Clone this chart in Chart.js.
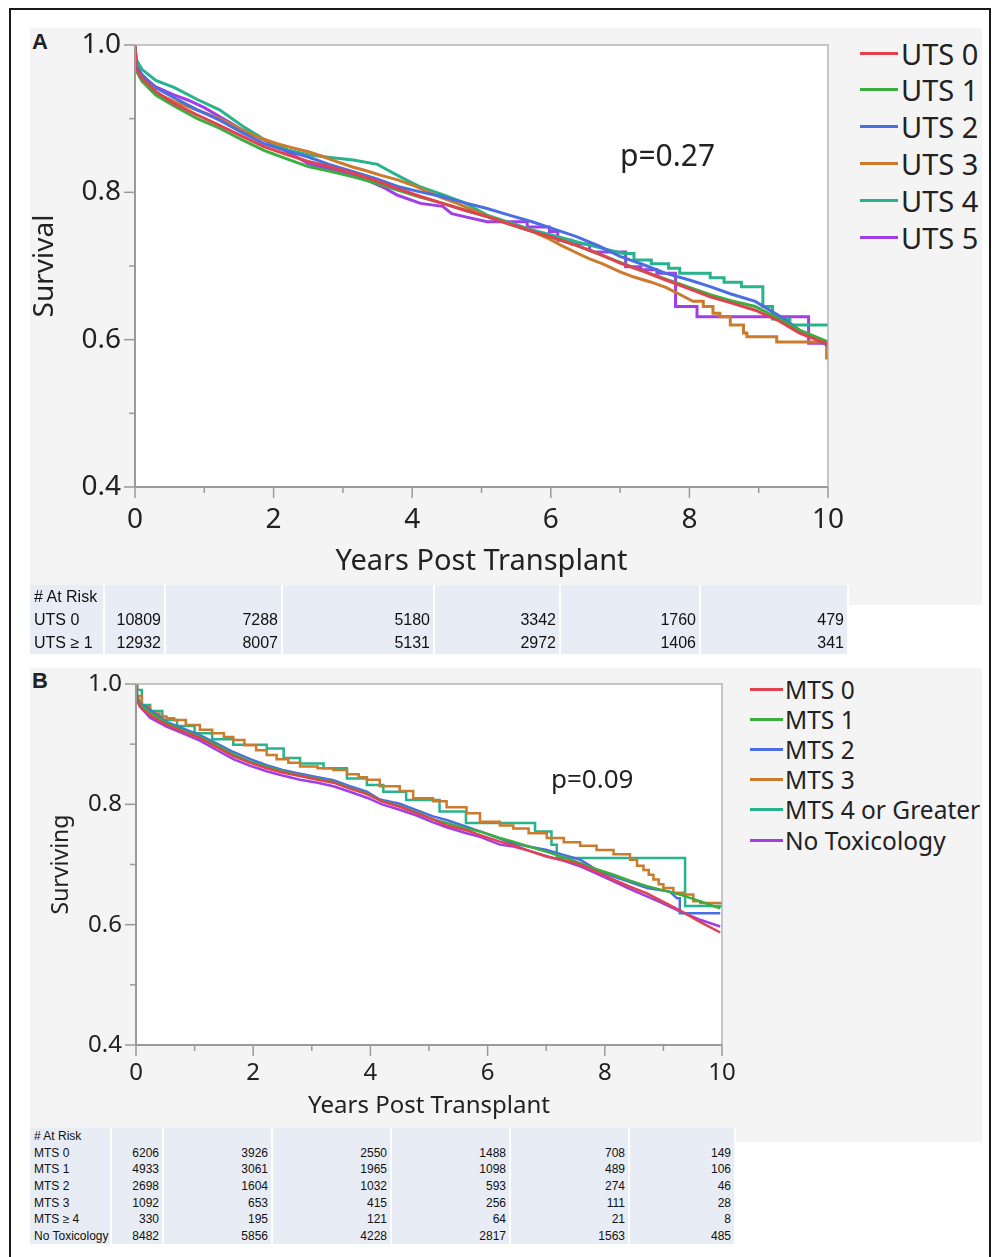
<!DOCTYPE html>
<html>
<head>
<meta charset="utf-8">
<script src="https://cdn.jsdelivr.net/npm/chart.js@4.4.1/dist/chart.umd.min.js"></script>
<style>
  body { margin: 0; background: #fff; font-family: 'Noto Sans', sans-serif; color: #222; }
  #page { position: relative; width: 992px; height: 1257px; overflow: hidden; }
  .frame { position: absolute; left: 9px; top: 8px; width: 978px; height: 1300px; border: 2px solid #1a1a1a; }
  .panel-bg { position: absolute; background: #f4f4f4; }
  canvas { position: absolute; }
  .tag { position: absolute; font-family: 'Liberation Sans', Arial, sans-serif; font-weight: bold; font-size: 22px; line-height: 1; }
  .pval { position: absolute; white-space: nowrap; line-height: 1; color: #222; }
  .legend { position: absolute; }
  .legend .row { position: absolute; left: 0; display: flex; align-items: center; white-space: nowrap; color: #222; }
  .legend .swatch { display: inline-block; }
  table.risk { position: absolute; border-collapse: collapse; table-layout: fixed; font-family: 'Liberation Sans', Arial, sans-serif; color: #111; }
  table.risk td { background: #e8ecf4; border-right: 2px solid #fff; padding: 0 3px 0 0; white-space: nowrap; overflow: hidden; text-align: right; }
  table.risk td:first-child { text-align: left; padding: 0 0 0 4px; }
</style>
</head>
<body>
<div id="page">
  <div class="frame"></div>

  <!-- panel A -->
  <div class="panel-bg" style="left:30px;top:28px;width:952px;height:577px;"></div>
  <div class="tag" style="left:32px;top:31px;">A</div>
  <canvas id="chartA" width="820" height="560" style="left:30px;top:28px;"></canvas>
  <div class="pval" style="left:620px;top:140px;font-size:30px;">p=0.27</div>
  <div class="legend" id="legendA" style="left:860px;top:0;"></div>
  <table class="risk" id="riskA" style="left:30px;top:585px;font-size:16px;"></table>

  <!-- panel B -->
  <div class="panel-bg" style="left:30px;top:668px;width:952px;height:474px;"></div>
  <div class="tag" style="left:32px;top:670px;">B</div>
  <canvas id="chartB" width="712" height="460" style="left:30px;top:668px;"></canvas>
  <div class="pval" style="left:551px;top:765px;font-size:26px;">p=0.09</div>
  <div class="legend" id="legendB" style="left:750px;top:0;"></div>
  <table class="risk" id="riskB" style="left:30px;top:1128px;font-size:12px;"></table>
</div>

<script>
// ---- panel A: survival by UTS, [years, survival]
// repeated years mark the visible vertical drops of the small groups
const uts0 = [[0,1],[0.02,0.968],[0.1,0.955],[0.3,0.937],[0.57,0.92],[0.9,0.905],[1.22,0.891],[1.55,0.876],[1.86,0.862],[2.2,0.851],[2.5,0.842],[2.8,0.835],[3.15,0.826],[3.5,0.815],[3.79,0.805],[4.1,0.795],[4.44,0.785],[4.75,0.776],[5.08,0.767],[5.4,0.757],[5.73,0.747],[6.05,0.738],[6.37,0.728],[6.7,0.716],[7.0,0.704],[7.33,0.693],[7.66,0.681],[8.0,0.669],[8.3,0.658],[8.6,0.65],[8.95,0.64],[9.3,0.625],[9.59,0.609],[10,0.594]];
const uts1 = [[0,1],[0.02,0.965],[0.1,0.951],[0.3,0.932],[0.57,0.917],[0.9,0.9],[1.22,0.887],[1.55,0.871],[1.86,0.857],[2.2,0.845],[2.5,0.835],[2.8,0.829],[3.15,0.821],[3.5,0.812],[3.79,0.803],[4.1,0.794],[4.44,0.785],[4.75,0.776],[5.08,0.767],[5.4,0.757],[5.73,0.747],[6.05,0.738],[6.37,0.728],[6.7,0.716],[7.0,0.705],[7.33,0.693],[7.66,0.682],[8.0,0.671],[8.3,0.661],[8.6,0.653],[8.95,0.645],[9.3,0.628],[9.59,0.613],[10,0.597]];
const uts2 = [[0,1],[0.02,0.972],[0.1,0.96],[0.3,0.942],[0.57,0.928],[0.9,0.912],[1.22,0.898],[1.55,0.881],[1.86,0.866],[2.2,0.856],[2.5,0.848],[2.8,0.838],[3.15,0.828],[3.5,0.818],[3.79,0.808],[4.1,0.801],[4.44,0.794],[4.75,0.786],[5.08,0.778],[5.4,0.769],[5.73,0.76],[6.05,0.75],[6.37,0.74],[6.7,0.727],[7.0,0.713],[7.33,0.702],[7.66,0.69],[8.0,0.681],[8.3,0.672],[8.6,0.662],[8.95,0.652],[9.3,0.632],[9.6,0.612],[10,0.592]];
const uts3 = [[0,1],[0.02,0.966],[0.1,0.952],[0.3,0.935],[0.57,0.923],[0.8,0.915],[1.0,0.908],[1.22,0.9],[1.4,0.892],[1.6,0.882],[1.86,0.872],[2.05,0.866],[2.25,0.861],[2.5,0.855],[2.7,0.849],[2.9,0.842],[3.15,0.834],[3.35,0.829],[3.55,0.823],[3.79,0.817],[4.0,0.81],[4.2,0.802],[4.44,0.792],[4.65,0.785],[4.85,0.777],[5.08,0.768],[5.3,0.761],[5.5,0.754],[5.73,0.747],[5.95,0.738],[6.15,0.728],[6.37,0.718],[6.55,0.71],[6.75,0.703],[7.0,0.692],[7.2,0.685],[7.45,0.678],[7.66,0.671],[7.85,0.662],[8.05,0.652],[8.2,0.652],[8.2,0.645],[8.34,0.645],[8.34,0.636],[8.44,0.636],[8.44,0.631],[8.59,0.631],[8.59,0.62],[8.78,0.62],[8.78,0.609],[8.83,0.609],[8.83,0.604],[9.26,0.604],[9.26,0.597],[9.98,0.597],[9.98,0.575],[10,0.575]];
const uts4 = [[0,1],[0.02,0.98],[0.1,0.967],[0.3,0.952],[0.57,0.942],[0.9,0.926],[1.22,0.912],[1.55,0.89],[1.86,0.872],[2.2,0.858],[2.5,0.851],[2.85,0.847],[3.15,0.844],[3.5,0.838],[3.65,0.83],[3.85,0.82],[4.1,0.808],[4.44,0.797],[4.75,0.786],[5.08,0.769],[5.4,0.759],[5.73,0.749],[6.05,0.741],[6.37,0.733],[6.7,0.725],[7.05,0.717],[7.2,0.717],[7.2,0.708],[7.45,0.708],[7.45,0.703],[7.7,0.703],[7.7,0.697],[7.86,0.697],[7.86,0.69],[8.3,0.69],[8.3,0.684],[8.5,0.684],[8.5,0.678],[8.75,0.678],[8.75,0.672],[9.06,0.672],[9.06,0.645],[9.2,0.645],[9.2,0.628],[9.45,0.628],[9.45,0.62],[10,0.62]];
const uts5 = [[0,1],[0.02,0.97],[0.1,0.958],[0.3,0.943],[0.57,0.932],[0.77,0.925],[1.0,0.915],[1.22,0.903],[1.4,0.893],[1.54,0.885],[1.86,0.871],[2.2,0.855],[2.5,0.839],[2.8,0.832],[3.15,0.824],[3.34,0.817],[3.6,0.806],[3.79,0.796],[4.12,0.785],[4.44,0.781],[4.57,0.771],[4.85,0.765],[5.08,0.76],[5.66,0.76],[5.66,0.753],[5.98,0.753],[5.98,0.747],[6.1,0.747],[6.1,0.735],[6.3,0.735],[6.3,0.73],[6.56,0.73],[6.56,0.722],[6.63,0.719],[7.08,0.719],[7.08,0.699],[7.3,0.699],[7.3,0.695],[7.53,0.695],[7.53,0.69],[7.8,0.69],[7.8,0.645],[8.11,0.645],[8.11,0.631],[9.72,0.631],[9.72,0.595],[10,0.595]];

const utsLabels = ['UTS 0', 'UTS 1', 'UTS 2', 'UTS 3', 'UTS 4', 'UTS 5'];
const utsStepped = [false, false, false, false, false, false];

// ---- panel B: survival by MTS
const mts0 = [[0,1],[0.02,0.975],[0.07,0.962],[0.24,0.948],[0.52,0.932],[0.8,0.921],[1.09,0.91],[1.4,0.894],[1.66,0.88],[1.95,0.869],[2.23,0.86],[2.5,0.853],[2.8,0.847],[3.1,0.841],[3.37,0.836],[3.65,0.826],[3.94,0.817],[4.2,0.805],[4.5,0.796],[4.8,0.785],[5.07,0.775],[5.3,0.765],[5.64,0.757],[5.9,0.748],[6.21,0.738],[6.44,0.732],[6.7,0.723],[7.01,0.713],[7.3,0.707],[7.58,0.7],[7.86,0.688],[8.15,0.675],[8.43,0.663],[8.72,0.652],[9.0,0.638],[9.28,0.624],[9.6,0.606],[9.97,0.587]];
const mts1 = [[0,1],[0.02,0.978],[0.07,0.966],[0.24,0.953],[0.52,0.935],[0.8,0.923],[1.09,0.912],[1.4,0.897],[1.66,0.883],[1.95,0.871],[2.23,0.862],[2.5,0.855],[2.8,0.848],[3.1,0.842],[3.37,0.837],[3.65,0.827],[3.94,0.818],[4.2,0.805],[4.5,0.797],[4.8,0.786],[5.07,0.775],[5.3,0.769],[5.64,0.76],[5.87,0.755],[6.21,0.744],[6.44,0.738],[6.7,0.73],[7.01,0.721],[7.3,0.712],[7.58,0.702],[7.86,0.692],[8.15,0.683],[8.43,0.673],[8.72,0.664],[9.0,0.657],[9.28,0.65],[9.6,0.64],[9.85,0.631],[9.97,0.627]];
const mts2 = [[0,1],[0.02,0.98],[0.07,0.968],[0.24,0.957],[0.52,0.937],[0.8,0.926],[1.09,0.915],[1.4,0.9],[1.66,0.887],[1.95,0.875],[2.23,0.865],[2.5,0.857],[2.8,0.851],[3.1,0.845],[3.37,0.84],[3.65,0.83],[3.94,0.821],[4.16,0.808],[4.5,0.801],[4.8,0.79],[5.07,0.78],[5.3,0.774],[5.64,0.763],[5.87,0.755],[6.21,0.743],[6.44,0.735],[6.7,0.73],[7.01,0.724],[7.3,0.716],[7.58,0.708],[7.86,0.691],[8.15,0.68],[8.43,0.671],[8.72,0.661],[9.11,0.655],[9.23,0.644],[9.28,0.644],[9.28,0.619],[9.97,0.619]];
const mts3 = [[0,1],[0.02,0.98],[0.1,0.962],[0.24,0.951],[0.4,0.946],[0.52,0.943],[0.65,0.94],[0.85,0.932],[1.09,0.924],[1.3,0.918],[1.5,0.912],[1.66,0.907],[1.85,0.898],[2.05,0.89],[2.23,0.882],[2.4,0.875],[2.6,0.869],[2.8,0.863],[3.1,0.86],[3.37,0.857],[3.6,0.85],[3.8,0.845],[3.94,0.841],[4.16,0.83],[4.5,0.822],[4.73,0.81],[5.07,0.805],[5.3,0.795],[5.64,0.785],[5.87,0.771],[6.21,0.765],[6.44,0.76],[6.7,0.752],[7.01,0.744],[7.3,0.737],[7.58,0.731],[7.86,0.724],[8.15,0.717],[8.43,0.708],[8.55,0.698],[8.66,0.691],[8.75,0.683],[8.83,0.675],[8.92,0.667],[9.0,0.661],[9.17,0.653],[9.34,0.65],[9.51,0.639],[9.63,0.636],[10,0.636]];
const mts4 = [[0,1],[0.02,0.99],[0.1,0.965],[0.24,0.955],[0.45,0.94],[0.7,0.93],[1.0,0.918],[1.3,0.908],[1.66,0.899],[2.23,0.893],[2.52,0.877],[2.8,0.868],[3.2,0.86],[3.6,0.843],[3.94,0.832],[4.22,0.821],[4.61,0.807],[5.18,0.788],[5.63,0.769],[6.81,0.755],[7.09,0.733],[7.18,0.711],[9.37,0.631],[10,0.631]];
const mtsNone = [[0,1],[0.02,0.972],[0.07,0.962],[0.24,0.944],[0.52,0.929],[0.8,0.918],[1.09,0.906],[1.4,0.889],[1.66,0.875],[1.95,0.864],[2.23,0.855],[2.5,0.848],[2.8,0.841],[3.1,0.836],[3.37,0.83],[3.65,0.821],[3.94,0.811],[4.2,0.8],[4.5,0.791],[4.8,0.781],[5.07,0.77],[5.3,0.762],[5.64,0.752],[5.87,0.746],[6.21,0.733],[6.44,0.73],[6.7,0.723],[7.01,0.714],[7.3,0.706],[7.58,0.697],[7.86,0.685],[8.15,0.672],[8.43,0.659],[8.72,0.647],[9.0,0.635],[9.28,0.622],[9.6,0.609],[9.97,0.597]];

const mtsLabels = ['MTS 0', 'MTS 1', 'MTS 2', 'MTS 3', 'MTS 4 or Greater', 'No Toxicology'];
const mtsStepped = [false, false, false, true, true, false];

const seriesColors = ['#e0434f', '#3aae3f', '#4a6fe0', '#cc7a2c', '#26b48c', '#a23de8'];

// ---- number at risk tables
const riskLabelsA = ['UTS 0', 'UTS \u2265 1'];
const riskUts0 = [10809, 7288, 5180, 3342, 1760, 479];
const riskUtsGe1 = [12932, 8007, 5131, 2972, 1406, 341];

const riskLabelsB = ['MTS 0', 'MTS 1', 'MTS 2', 'MTS 3', 'MTS \u2265 4', 'No Toxicology'];
const riskMts0 = [6206, 3926, 2550, 1488, 708, 149];
const riskMts1 = [4933, 3061, 1965, 1098, 489, 106];
const riskMts2 = [2698, 1604, 1032, 593, 274, 46];
const riskMts3 = [1092, 653, 415, 256, 111, 28];
const riskMts4 = [330, 195, 121, 64, 21, 8];
const riskNoTox = [8482, 5856, 4228, 2817, 1563, 485];

Chart.defaults.font.family = "'Noto Sans', sans-serif";
Chart.defaults.color = '#222';

// white plot area, grey frame and major/minor tick marks
const kmFrame = {
  id: 'kmFrame',
  beforeDatasetsDraw(chart) {
    const { ctx, chartArea: a } = chart;
    ctx.save();
    ctx.fillStyle = '#fff';
    ctx.fillRect(a.left, a.top, a.right - a.left, a.bottom - a.top);
    ctx.restore();
  },
  afterDatasetsDraw(chart, args, o) {
    const { ctx, chartArea: a, scales: { x, y } } = chart;
    ctx.save();
    ctx.strokeStyle = '#b4b4b4';
    ctx.lineWidth = 1.5;
    ctx.beginPath();
    ctx.moveTo(a.left, a.top);
    ctx.lineTo(a.right, a.top);
    ctx.lineTo(a.right, a.bottom);
    ctx.stroke();

    ctx.strokeStyle = '#9a9a9a';
    ctx.lineWidth = 2;
    ctx.beginPath();
    ctx.moveTo(a.left, a.top);
    ctx.lineTo(a.left, a.bottom);
    ctx.lineTo(a.right, a.bottom);
    ctx.stroke();

    ctx.lineWidth = 1.5;
    for (let i = 0; x.min + i * o.xMinor <= x.max + 1e-9; i++) {
      const px = x.getPixelForValue(x.min + i * o.xMinor);
      const len = i % 2 === 0 ? o.major : o.minor;
      ctx.beginPath();
      ctx.moveTo(px, a.bottom);
      ctx.lineTo(px, a.bottom + len);
      ctx.stroke();
    }
    for (let i = 0; y.min + i * o.yMinor <= y.max + 1e-9; i++) {
      const py = y.getPixelForValue(y.min + i * o.yMinor);
      const len = i % 2 === 0 ? o.major : o.minor;
      ctx.beginPath();
      ctx.moveTo(a.left, py);
      ctx.lineTo(a.left - len, py);
      ctx.stroke();
    }
    ctx.restore();
  }
};

function makeKM(id, series, labels, stepped, o) {
  return new Chart(document.getElementById(id), {
    type: 'line',
    data: {
      datasets: series.map((s, i) => ({
        label: labels[i],
        data: s.map(([t, v]) => ({ x: t, y: v })),
        borderColor: seriesColors[i],
        backgroundColor: seriesColors[i],
        borderWidth: o.lineWidth,
        stepped: stepped[i] ? 'before' : false,
        pointRadius: 0,
        fill: false,
        tension: 0
      }))
    },
    options: {
      responsive: false,
      animation: false,
      events: [],
      layout: { padding: o.padding },
      plugins: {
        legend: { display: false },
        tooltip: { enabled: false },
        kmFrame: { major: o.major, minor: o.minor, xMinor: 1, yMinor: 0.1 }
      },
      scales: {
        x: {
          type: 'linear', min: 0, max: 10,
          afterFit: s => { s.height = o.xHeight; s.paddingLeft = 0; s.paddingRight = 0; },
          grid: { display: false, drawTicks: false },
          border: { display: false },
          ticks: { stepSize: 2, padding: o.xPad, maxRotation: 0, autoSkip: false, font: { size: o.tickFont } },
          title: { display: true, text: 'Years Post Transplant', font: { size: o.xTitleFont }, padding: { top: 0, bottom: o.xTitlePad } }
        },
        y: {
          min: 0.4, max: 1.0,
          afterFit: s => { s.width = o.yWidth; s.paddingTop = 0; s.paddingBottom = 0; },
          grid: { display: false, drawTicks: false },
          border: { display: false },
          ticks: { stepSize: 0.2, padding: o.yPad, font: { size: o.tickFont }, callback: v => v.toFixed(1) },
          title: { display: true, text: o.yTitle, font: { size: o.yTitleFont }, padding: { top: o.yTitlePad, bottom: 0 } }
        }
      }
    },
    plugins: [kmFrame]
  });
}

makeKM('chartA', [uts0, uts1, uts2, uts3, uts4, uts5], utsLabels, utsStepped, {
  lineWidth: 3, padding: { top: 17, right: 22, left: 0, bottom: 0 },
  xHeight: 101, yWidth: 105, xPad: 16, yPad: 14, tickFont: 28, xTitleFont: 29, yTitleFont: 28,
  xTitlePad: 9, yTitlePad: -2, yTitle: 'Survival', major: 11, minor: 6
});

makeKM('chartB', [mts0, mts1, mts2, mts3, mts4, mtsNone], mtsLabels, mtsStepped, {
  lineWidth: 2.5, padding: { top: 16, right: 20, left: 0, bottom: 0 },
  xHeight: 83, yWidth: 106, xPad: 14, yPad: 14, tickFont: 24, xTitleFont: 24, yTitleFont: 23,
  xTitlePad: 7, yTitlePad: 18, yTitle: 'Surviving', major: 11, minor: 6
});

function buildLegend(id, labels, o) {
  const box = document.getElementById(id);
  labels.forEach((name, i) => {
    const row = document.createElement('div');
    row.className = 'row';
    row.style.top = (o.firstY + i * o.pitch - o.fontSize / 2) + 'px';
    row.style.height = o.fontSize + 'px';
    row.style.fontSize = o.fontSize + 'px';
    const sw = document.createElement('span');
    sw.className = 'swatch';
    sw.style.width = o.swatchW + 'px';
    sw.style.height = o.swatchH + 'px';
    sw.style.background = seriesColors[i];
    sw.style.marginRight = o.gap + 'px';
    row.appendChild(sw);
    row.appendChild(document.createTextNode(name));
    box.appendChild(row);
  });
}

buildLegend('legendA', utsLabels, { firstY: 53, pitch: 36.8, fontSize: 29, swatchW: 38, swatchH: 3, gap: 3 });
buildLegend('legendB', mtsLabels, { firstY: 689, pitch: 30.2, fontSize: 24.5, swatchW: 33, swatchH: 3, gap: 2 });

function buildRisk(id, labels, rows, widths, rowH) {
  const table = document.getElementById(id);
  const colgroup = document.createElement('colgroup');
  widths.forEach(w => {
    const c = document.createElement('col');
    c.style.width = w + 'px';
    colgroup.appendChild(c);
  });
  table.appendChild(colgroup);
  table.style.width = widths.reduce((a, b) => a + b, 0) + 'px';
  const head = table.insertRow();
  head.style.height = rowH + 'px';
  widths.forEach((w, i) => { head.insertCell().textContent = i === 0 ? '# At Risk' : ''; });
  rows.forEach((vals, r) => {
    const tr = table.insertRow();
    tr.style.height = rowH + 'px';
    tr.insertCell().textContent = labels[r];
    vals.forEach(v => { tr.insertCell().textContent = v; });
  });
}

buildRisk('riskA', riskLabelsA, [riskUts0, riskUtsGe1], [74, 61, 117, 152, 126, 140, 148], 23);
buildRisk('riskB', riskLabelsB, [riskMts0, riskMts1, riskMts2, riskMts3, riskMts4, riskNoTox], [81, 52, 109, 119, 119, 119, 106], 16.6);
</script>
</body>
</html>
